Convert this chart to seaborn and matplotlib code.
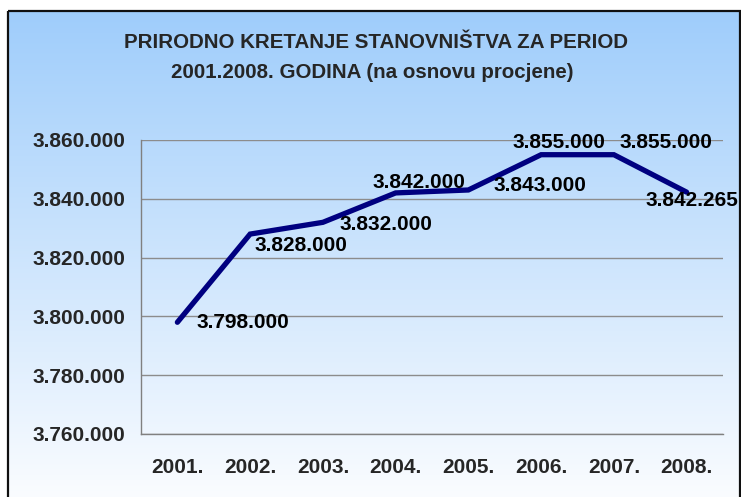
import numpy as np
import pandas as pd
import seaborn as sns
import matplotlib.pyplot as plt
from matplotlib.ticker import FuncFormatter, FixedLocator
from matplotlib.patches import Rectangle

years = ['2001.', '2002.', '2003.', '2004.', '2005.', '2006.', '2007.', '2008.']
population = [3798000, 3828000, 3832000, 3842000, 3843000, 3855000, 3855000, 3842265]
point_labels = ['3.798.000', '3.828.000', '3.832.000', '3.842.000',
                '3.843.000', '3.855.000', '3.855.000', '3.842.265']

# label offsets in pixels (left edge, vertical centre) - placed like the original
label_offsets = [(19, 0), (4, -11), (17, -2), (-23, 10),
                 (25, 4), (-29, 12), (6, 12), (-41, -8)]

sns.set_style('white')
plt.rcParams['font.family'] = ['Liberation Sans', 'DejaVu Sans']
plt.rcParams['font.weight'] = 'bold'

fig = plt.figure(figsize=(7.41, 4.97), dpi=100)

# gradient background inside the chart frame
bg = fig.add_axes([0, 0, 1, 1], zorder=0)
bg.set_xlim(0, 741)
bg.set_ylim(497, 0)
bg.axis('off')
top = np.array([0x9f, 0xcd, 0xfb]) / 255
bot = np.array([0xfa, 0xfc, 0xff]) / 255
t = np.linspace(0, 1, 256)[:, None]
grad = (top * (1 - t) + bot * t)[:, None, :]
bg.imshow(grad, extent=[8, 740, 497, 11], aspect='auto', interpolation='bicubic')
bg.add_patch(Rectangle((8, 11), 732, 500, fill=False, edgecolor='#101010', lw=1.6))

ax = fig.add_axes([141 / 741, 1 - 434 / 497, 582 / 741, 294 / 497], zorder=1)
ax.patch.set_alpha(0)

df = pd.DataFrame({'x': np.arange(len(years)), 'pop': population})
sns.lineplot(data=df, x='x', y='pop', ax=ax, color='#000080', lw=3.8,
             solid_capstyle='round', solid_joinstyle='miter', zorder=3)

for i, (v, lab) in enumerate(zip(population, point_labels)):
    dx, dy = label_offsets[i]
    ax.annotate(lab, (i, v), xytext=(dx, dy), textcoords='offset pixels',
                ha='left', va='center', fontsize=15, fontweight='bold',
                color='black', zorder=4, annotation_clip=False)

ax.set_xlim(-0.5, len(years) - 0.5)
ax.set_ylim(3760000, 3860000)
ax.set_yticks(np.arange(3760000, 3860001, 20000))
ax.yaxis.set_major_formatter(FuncFormatter(lambda v, p: f'{v:,.0f}'.replace(',', '.')))
ax.set_xticks(np.arange(len(years)))
ax.set_xticklabels(years)
ax.xaxis.set_minor_locator(FixedLocator(np.arange(-0.5, len(years), 1)))
ax.tick_params(axis='x', which='major', length=0, pad=17, labelsize=15)
ax.tick_params(axis='x', which='minor', length=5, width=1, color='#808080', direction='out')
ax.tick_params(axis='y', length=5, width=1, color='#808080', direction='out', pad=6, labelsize=15)
ax.grid(axis='y', color='#8c8c8c', lw=1)
ax.set_axisbelow(True)
for s in ['top', 'right']:
    ax.spines[s].set_visible(False)
for s in ['left', 'bottom']:
    ax.spines[s].set_color('#808080')
    ax.spines[s].set_linewidth(1)
ax.set_xlabel('')
ax.set_ylabel('')

fig.text(376 / 741, 1 - 42 / 497, 'PRIRODNO KRETANJE STANOVNIŠTVA ZA PERIOD',
         ha='center', va='center', fontsize=14.8, fontweight='bold')
fig.text(372 / 741, 1 - 72 / 497, '2001.2008. GODINA (na osnovu procjene)',
         ha='center', va='center', fontsize=14.8, fontweight='bold')

fig.savefig('out.png', dpi=100)
